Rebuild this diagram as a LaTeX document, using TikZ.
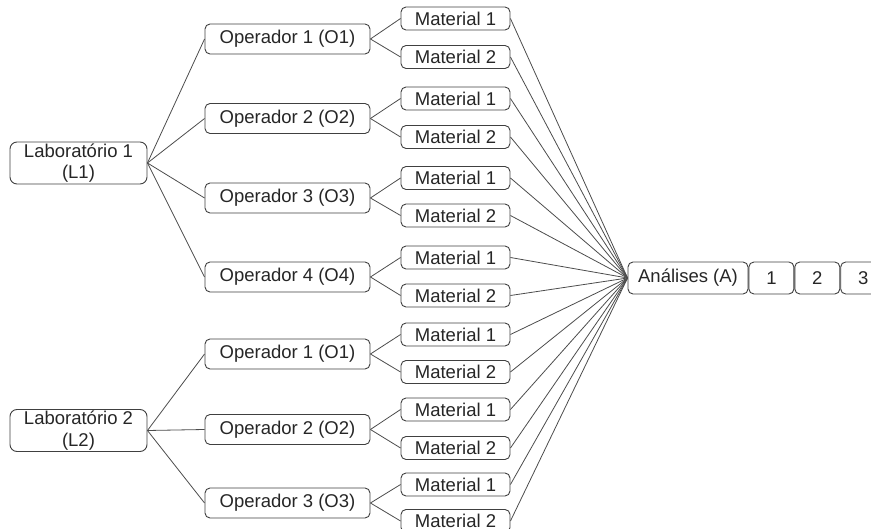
\documentclass[tikz,border=0pt]{standalone}
\usepackage{fontspec}
\setmainfont{Liberation Sans}
\usepackage{tikz}
\usetikzlibrary{positioning}

\tikzset{
  box/.style={draw=black!75, fill=white, line width=0.9pt, rounded corners=5pt, inner sep=0pt, text=black!85, font=\fontsize{18.5}{19}\selectfont},
  labbox/.style={box, minimum width=137pt, minimum height=42pt, align=center, rounded corners=7pt, font=\fontsize{18.5}{21.5}\selectfont},
  opbox/.style={box, minimum width=165pt, minimum height=30pt},
  matbox/.style={box, minimum width=109pt, minimum height=23pt},
  anbox/.style={box, minimum width=120pt, minimum height=32pt},
  numbox/.style={box, minimum width=45pt, minimum height=32pt},
  link/.style={draw=black!70, line width=0.8pt},
}

\begin{document}
\begin{tikzpicture}[x=1pt, y=-1pt]
\useasboundingbox (0,0) rectangle (871,529);

% Laboratorios
\node[labbox] (lab1) at (78.5,163) {Laboratório 1\\(L1)};
\node[labbox] (lab2) at (78.5,430.5) {Laboratório 2\\(L2)};

% Operadores
\node[opbox] (o11) at (287.5,39) {Operador 1 (O1)};
\node[opbox] (o12) at (287.5,118.5) {Operador 2 (O2)};
\node[opbox] (o13) at (287.5,198) {Operador 3 (O3)};
\node[opbox] (o14) at (287.5,277) {Operador 4 (O4)};
\node[opbox] (o21) at (287.5,354) {Operador 1 (O1)};
\node[opbox] (o22) at (287.5,429.5) {Operador 2 (O2)};
\node[opbox] (o23) at (287.5,503) {Operador 3 (O3)};

% Materiais
\node[matbox] (m111) at (455.5,18.5) {Material 1};
\node[matbox] (m112) at (455.5,57) {Material 2};
\node[matbox] (m121) at (455.5,98.5) {Material 1};
\node[matbox] (m122) at (455.5,137) {Material 2};
\node[matbox] (m131) at (455.5,178) {Material 1};
\node[matbox] (m132) at (455.5,215.5) {Material 2};
\node[matbox] (m141) at (455.5,257.5) {Material 1};
\node[matbox] (m142) at (455.5,295.5) {Material 2};
\node[matbox] (m211) at (455.5,334.5) {Material 1};
\node[matbox] (m212) at (455.5,372) {Material 2};
\node[matbox] (m221) at (455.5,409.5) {Material 1};
\node[matbox] (m222) at (455.5,448) {Material 2};
\node[matbox] (m231) at (455.5,484.5) {Material 1};
\node[matbox] (m232) at (455.5,521) {Material 2};

% Analises
\node[anbox] (an) at (688,278) {Análises (A)};
\node[numbox, right=0pt of an] (n1) {1};
\node[numbox, right=0pt of n1] (n2) {2};
\node[numbox, right=0pt of n2] (n3) {3};

% Laboratorio -> operador
\draw[link] (lab1.east) -- (o11.west);
\draw[link] (lab1.east) -- (o12.west);
\draw[link] (lab1.east) -- (o13.west);
\draw[link] (lab1.east) -- (o14.west);
\draw[link] (lab2.east) -- (o21.west);
\draw[link] (lab2.east) -- (o22.west);
\draw[link] (lab2.east) -- (o23.west);

% Operador -> material
\draw[link] (o11.east) -- (m111.west);
\draw[link] (o11.east) -- (m112.west);
\draw[link] (o12.east) -- (m121.west);
\draw[link] (o12.east) -- (m122.west);
\draw[link] (o13.east) -- (m131.west);
\draw[link] (o13.east) -- (m132.west);
\draw[link] (o14.east) -- (m141.west);
\draw[link] (o14.east) -- (m142.west);
\draw[link] (o21.east) -- (m211.west);
\draw[link] (o21.east) -- (m212.west);
\draw[link] (o22.east) -- (m221.west);
\draw[link] (o22.east) -- (m222.west);
\draw[link] (o23.east) -- (m231.west);
\draw[link] (o23.east) -- (m232.west);

% Material -> analises
\draw[link] (m111.east) -- (an.west);
\draw[link] (m112.east) -- (an.west);
\draw[link] (m121.east) -- (an.west);
\draw[link] (m122.east) -- (an.west);
\draw[link] (m131.east) -- (an.west);
\draw[link] (m132.east) -- (an.west);
\draw[link] (m141.east) -- (an.west);
\draw[link] (m142.east) -- (an.west);
\draw[link] (m211.east) -- (an.west);
\draw[link] (m212.east) -- (an.west);
\draw[link] (m221.east) -- (an.west);
\draw[link] (m222.east) -- (an.west);
\draw[link] (m231.east) -- (an.west);
\draw[link] (m232.east) -- (an.west);

\end{tikzpicture}
\end{document}
